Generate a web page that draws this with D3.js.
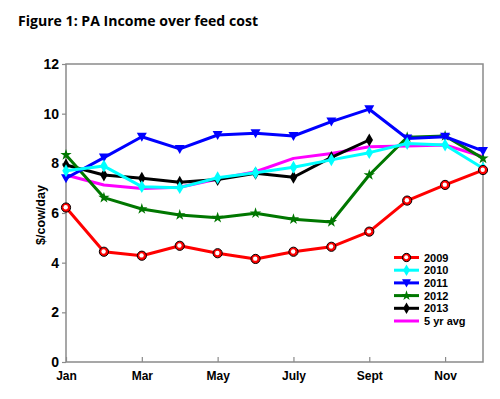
<!DOCTYPE html>
<html>
<head>
<meta charset="utf-8">
<script src="https://cdn.jsdelivr.net/npm/d3@7"></script>
<style>
  body { margin: 0; background: #fff; }
  svg text { font-family: Arial, "Liberation Sans", sans-serif; font-weight: bold; }
</style>
</head>
<body>
<svg id="chart" width="500" height="399"></svg>
<script>
// 月份 1..12
const MONTHS = [1, 2, 3, 4, 5, 6, 7, 8, 9, 10, 11, 12];
const TICK_MONTHS = [1, 3, 5, 7, 9, 11];
const TICK_LABELS = ["Jan", "Mar", "May", "July", "Sept", "Nov"];
const Y_TICKS = [0, 2, 4, 6, 8, 10, 12];

const V2009 = [6.22, 4.44, 4.28, 4.68, 4.38, 4.15, 4.44, 4.64, 5.25, 6.5, 7.13, 7.73];
const V2010 = [7.70, 7.89, 7.06, 7.02, 7.42, 7.62, 7.84, 8.14, 8.43, 8.80, 8.74, 7.80];
const V2011 = [7.40, 8.23, 9.07, 8.58, 9.14, 9.21, 9.10, 9.68, 10.18, 9.00, 9.07, 8.50];
const V2012 = [8.34, 6.62, 6.16, 5.92, 5.81, 5.99, 5.75, 5.64, 7.53, 9.05, 9.10, 8.20];
const V2013 = [7.93, 7.53, 7.40, 7.24, 7.35, 7.60, 7.44, 8.24, 8.94];
const VAVG  = [7.53, 7.13, 6.99, 7.04, 7.37, 7.66, 8.20, 8.40, 8.67, 8.70, 8.74, 8.27];

const SERIES = [
  { name: "5 yr avg", values: VAVG, color: "#ff00ff", marker: null },
  { name: "2013", values: V2013, color: "#000000", marker: "diamond" },
  { name: "2012", values: V2012, color: "#007700", marker: "star" },
  { name: "2011", values: V2011, color: "#0000ff", marker: "tri" },
  { name: "2010", values: V2010, color: "#00ffff", marker: "diamond" },
  { name: "2009", values: V2009, color: "#ff0000", marker: "circle" },
];
const LEGEND_ORDER = ["2009", "2010", "2011", "2012", "2013", "5 yr avg"];

const svg = d3.select("#chart");
const L = 66, R = 483, T = 64, B = 362;

const x = d3.scaleLinear().domain([1, 12]).range([L, R]);
const y = d3.scaleLinear().domain([0, 12]).range([B, T]);

// 标题
svg.append("text").attr("x", 18).attr("y", 26)
  .attr("font-size", 15).attr("textLength", 240).attr("lengthAdjust", "spacingAndGlyphs")
  .style("font-family", "'Open Sans', sans-serif")
  .text("Figure 1: PA Income over feed cost");

// 框
svg.append("rect").attr("x", L).attr("y", T).attr("width", R - L).attr("height", B - T)
  .attr("fill", "none").attr("stroke", "#8a8a8a").attr("stroke-width", 1.5);

// 坐标轴
const yAxis = svg.append("g").attr("transform", `translate(${L},0)`)
  .call(d3.axisLeft(y).tickValues(Y_TICKS).tickSize(4).tickPadding(3));
const xAxis = svg.append("g").attr("transform", `translate(0,${B})`)
  .call(d3.axisBottom(x).tickValues(TICK_MONTHS).tickFormat((d, i) => TICK_LABELS[i]).tickSize(-5).tickPadding(9));
[yAxis, xAxis].forEach((g) => {
  g.select(".domain").remove();
  g.attr("font-family", null);
  g.selectAll("line").attr("stroke", "#8a8a8a").attr("stroke-width", 1.2);
  g.selectAll("text").attr("fill", "#000");
});
yAxis.selectAll("text").attr("font-size", 14);
xAxis.selectAll("text").attr("font-size", 12);

svg.append("text").attr("transform", `translate(45,${(T + B) / 2 + 2}) rotate(-90)`)
  .attr("text-anchor", "middle").attr("font-size", 12.5).text("$/cow/day");

// 标记
function marker(g, type, color, s) {
  s = s || 1;
  if (type === "circle") {
    g.append("circle").attr("r", 4.6 * s).attr("fill", color).attr("stroke", "#000").attr("stroke-width", 1);
    g.append("circle").attr("r", 2.2 * s).attr("cx", -0.3).attr("cy", -0.3).attr("fill", "#fff");
  } else if (type === "diamond") {
    g.append("path").attr("d", d3.symbol(d3.symbolDiamond, 48 * s * s)()).attr("fill", color);
  } else if (type === "tri") {
    g.append("path").attr("d", "M-5,-4L5,-4L0,5Z").attr("transform", `scale(${s})`).attr("fill", color);
  } else if (type === "star") {
    g.append("path").attr("d", d3.symbol(d3.symbolStar, 40 * s * s)()).attr("fill", color);
  }
}

const line = d3.line().x((d, i) => x(MONTHS[i])).y((d) => y(d));

SERIES.forEach((s) => {
  svg.append("path").datum(s.values).attr("d", line)
    .attr("fill", "none").attr("stroke", s.color).attr("stroke-width", 3).attr("stroke-linejoin", "round");
  if (s.marker) {
    s.values.forEach((v, i) => {
      const g = svg.append("g").attr("transform", `translate(${x(MONTHS[i])},${y(v)})`);
      marker(g, s.marker, s.color);
    });
  }
});

// 图例
const leg = svg.append("g");
LEGEND_ORDER.forEach((name, i) => {
  const s = SERIES.find((d) => d.name === name);
  const yy = 257.5 + i * 12.7;
  leg.append("line").attr("x1", 394).attr("x2", 419).attr("y1", yy).attr("y2", yy)
    .attr("stroke", s.color).attr("stroke-width", 3);
  if (s.marker) marker(leg.append("g").attr("transform", `translate(406.5,${yy})`), s.marker, s.color, 0.9);
  leg.append("text").attr("x", 424).attr("y", yy + 4).attr("font-size", 11).text(name);
});
</script>
</body>
</html>
